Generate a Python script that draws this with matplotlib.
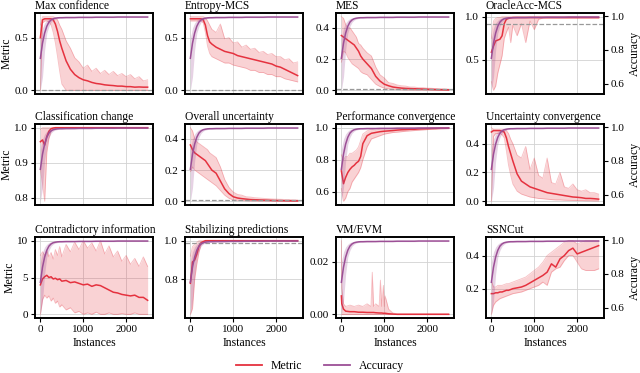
import matplotlib.pyplot as plt
from matplotlib.lines import Line2D

plt.rcParams['font.family'] = 'serif'
plt.rcParams['font.serif'] = ['Liberation Serif', 'DejaVu Serif']

RED = '#e5323f'
PURPLE = '#9c4f96'

# instances
x = [0, 50, 100, 150, 200, 250, 300, 350, 400, 450, 500, 600, 700, 800, 900, 1000,
     1100, 1200, 1300, 1400, 1500, 1600, 1700, 1800, 1900, 2000, 2100, 2200, 2300, 2400, 2500]

# accuracy (same learner in every panel)
acc_mean = [0.75, 0.84, 0.90, 0.94, 0.965, 0.978, 0.985, 0.988, 0.99, 0.991, 0.991, 0.992, 0.992, 0.992, 0.993, 0.993,
            0.993, 0.993, 0.994, 0.994, 0.994, 0.994, 0.994, 0.995, 0.995, 0.995, 0.995, 0.995, 0.995, 0.995, 0.995]
acc_lo = [0.56, 0.64, 0.80, 0.90, 0.94, 0.965, 0.977, 0.983, 0.986, 0.988, 0.988, 0.989, 0.989, 0.99, 0.99, 0.99,
          0.99, 0.99, 0.991, 0.991, 0.991, 0.991, 0.991, 0.992, 0.992, 0.992, 0.992, 0.992, 0.992, 0.992, 0.992]
acc_hi = [0.87, 0.93, 0.96, 0.976, 0.986, 0.99, 0.993, 0.994, 0.995, 0.995, 0.995, 0.995, 0.995, 0.995, 0.996, 0.996,
          0.996, 0.996, 0.996, 0.996, 0.996, 0.997, 0.997, 0.997, 0.997, 0.997, 0.997, 0.997, 0.997, 0.997, 0.997]

# Max confidence
mc_mean = [0.50, 0.67, 0.68, 0.68, 0.68, 0.68, 0.67, 0.63, 0.56, 0.47, 0.40, 0.28, 0.20, 0.15, 0.12, 0.10,
           0.09, 0.075, 0.065, 0.06, 0.052, 0.048, 0.045, 0.04, 0.04, 0.035, 0.035, 0.03, 0.032, 0.03, 0.03]
mc_hi = [0.62, 0.70, 0.70, 0.70, 0.70, 0.70, 0.70, 0.69, 0.67, 0.62, 0.58, 0.47, 0.40, 0.31, 0.27, 0.21,
         0.24, 0.18, 0.21, 0.16, 0.19, 0.15, 0.18, 0.14, 0.16, 0.13, 0.15, 0.11, 0.13, 0.09, 0.10]
mc_lo = [0.0, 0.64, 0.66, 0.66, 0.65, 0.62, 0.55, 0.45, 0.32, 0.18, 0.06, 0.0, 0.0, 0.0, 0.0, 0.0,
         0.0, 0.0, 0.0, 0.0, 0.0, 0.0, 0.0, 0.0, 0.0, 0.0, 0.0, 0.0, 0.0, 0.0, 0.0]

# Entropy-MCS
em_mean = [0.68, 0.68, 0.68, 0.68, 0.68, 0.68, 0.67, 0.62, 0.52, 0.46, 0.44, 0.41, 0.39, 0.37, 0.36, 0.35,
           0.33, 0.32, 0.31, 0.30, 0.29, 0.28, 0.27, 0.26, 0.25, 0.23, 0.22, 0.20, 0.18, 0.16, 0.14]
em_hi = [0.70, 0.70, 0.70, 0.70, 0.70, 0.70, 0.70, 0.69, 0.66, 0.62, 0.58, 0.55, 0.63, 0.49, 0.50, 0.45,
         0.46, 0.41, 0.43, 0.39, 0.40, 0.36, 0.37, 0.34, 0.35, 0.32, 0.32, 0.29, 0.30, 0.26, 0.27]
em_lo = [0.66, 0.66, 0.66, 0.66, 0.66, 0.66, 0.64, 0.55, 0.42, 0.35, 0.32, 0.30, 0.28, 0.26, 0.26, 0.24,
         0.23, 0.22, 0.21, 0.19, 0.19, 0.17, 0.17, 0.15, 0.15, 0.13, 0.13, 0.11, 0.10, 0.09, 0.08]

# MES
mes_mean = [0.35, 0.34, 0.33, 0.32, 0.31, 0.30, 0.29, 0.27, 0.25, 0.22, 0.20, 0.17, 0.14, 0.09, 0.06, 0.04,
            0.03, 0.022, 0.018, 0.015, 0.013, 0.012, 0.011, 0.010, 0.009, 0.008, 0.007, 0.006, 0.005, 0.005, 0.004]
mes_hi = [0.47, 0.46, 0.42, 0.40, 0.40, 0.38, 0.36, 0.34, 0.30, 0.29, 0.27, 0.24, 0.22, 0.15, 0.10, 0.08,
          0.05, 0.045, 0.035, 0.03, 0.028, 0.022, 0.022, 0.018, 0.018, 0.015, 0.014, 0.012, 0.011, 0.010, 0.009]
mes_lo = [0.18, 0.25, 0.24, 0.21, 0.19, 0.17, 0.16, 0.15, 0.14, 0.12, 0.11, 0.10, 0.07, 0.04, 0.025, 0.015,
          0.01, 0.008, 0.006, 0.005, 0.004, 0.004, 0.003, 0.003, 0.003, 0.002, 0.002, 0.002, 0.002, 0.001, 0.001]

# OracleAcc-MCS
oa_mean = [0.59, 0.66, 0.72, 0.73, 0.74, 0.78, 0.92, 0.97, 0.98, 0.985, 0.99, 0.99, 0.99, 0.99, 0.99, 0.99,
           0.99, 0.99, 0.99, 0.99, 0.99, 0.99, 0.99, 0.99, 0.99, 0.99, 0.99, 0.99, 0.99, 0.99, 0.99]
oa_hi = [0.75, 0.95, 0.98, 0.99, 0.99, 1.0, 1.0, 1.0, 1.0, 1.0, 1.0, 1.0, 1.0, 1.0, 1.0, 1.0,
         1.0, 1.0, 1.0, 1.0, 1.0, 1.0, 1.0, 1.0, 1.0, 1.0, 1.0, 1.0, 1.0, 1.0, 1.0]
oa_lo = [0.25, 0.15, 0.20, 0.35, 0.45, 0.55, 0.75, 0.82, 0.88, 0.70, 0.90, 0.78, 0.92, 0.70, 0.95, 0.85,
         0.97, 0.985, 0.985, 0.985, 0.985, 0.985, 0.985, 0.985, 0.985, 0.985, 0.985, 0.985, 0.985, 0.985, 0.985]

# Classification change
cc_mean = [0.96, 0.965, 0.95, 0.975, 0.99, 0.997, 0.999, 1.0, 1.0, 1.0, 1.0, 1.0, 1.0, 1.0, 1.0, 1.0,
           1.0, 1.0, 1.0, 1.0, 1.0, 1.0, 1.0, 1.0, 1.0, 1.0, 1.0, 1.0, 1.0, 1.0, 1.0]
cc_hi = [0.995, 1.0, 1.0, 1.0, 1.0, 1.0, 1.0, 1.0, 1.0, 1.0, 1.0, 1.0, 1.0, 1.0, 1.0, 1.0,
         1.0, 1.0, 1.0, 1.0, 1.0, 1.0, 1.0, 1.0, 1.0, 1.0, 1.0, 1.0, 1.0, 1.0, 1.0]
cc_lo = [0.88, 0.84, 0.79, 0.93, 0.97, 0.99, 0.995, 0.998, 0.999, 0.999, 0.999, 0.999, 0.999, 0.999, 0.999, 0.999,
         0.999, 0.999, 0.999, 0.999, 0.999, 0.999, 0.999, 0.999, 0.999, 0.999, 0.999, 0.999, 0.999, 0.999, 0.999]

# Overall uncertainty
ou_mean = [0.36, 0.33, 0.31, 0.30, 0.29, 0.28, 0.27, 0.26, 0.24, 0.22, 0.20, 0.18, 0.13, 0.08, 0.05, 0.03,
           0.022, 0.018, 0.015, 0.012, 0.011, 0.01, 0.009, 0.008, 0.007, 0.006, 0.006, 0.005, 0.005, 0.004, 0.004]
ou_hi = [0.47, 0.45, 0.40, 0.38, 0.37, 0.36, 0.35, 0.34, 0.33, 0.31, 0.30, 0.28, 0.22, 0.14, 0.09, 0.06,
         0.045, 0.04, 0.03, 0.028, 0.024, 0.022, 0.02, 0.018, 0.016, 0.015, 0.014, 0.013, 0.012, 0.011, 0.01]
ou_lo = [0.19, 0.22, 0.20, 0.19, 0.18, 0.17, 0.16, 0.15, 0.14, 0.13, 0.12, 0.10, 0.07, 0.04, 0.02, 0.01,
         0.008, 0.006, 0.005, 0.004, 0.004, 0.003, 0.003, 0.003, 0.002, 0.002, 0.002, 0.002, 0.001, 0.001, 0.001]

# Performance convergence
pc_mean = [0.73, 0.65, 0.69, 0.72, 0.74, 0.755, 0.765, 0.78, 0.79, 0.82, 0.90, 0.95, 0.965, 0.97, 0.975, 0.978,
           0.98, 0.982, 0.985, 0.987, 0.988, 0.99, 0.99, 0.992, 0.993, 0.994, 0.995, 0.996, 0.997, 0.997, 0.998]
pc_hi = [0.83, 0.80, 0.82, 0.82, 0.84, 0.84, 0.85, 0.86, 0.88, 0.92, 0.96, 0.98, 0.99, 0.985, 0.99, 0.995,
         0.995, 0.997, 0.997, 0.998, 0.998, 0.999, 0.999, 0.999, 1.0, 1.0, 1.0, 1.0, 1.0, 1.0, 1.0]
pc_lo = [0.62, 0.54, 0.56, 0.60, 0.62, 0.66, 0.68, 0.70, 0.72, 0.75, 0.80, 0.88, 0.93, 0.94, 0.95, 0.96,
         0.965, 0.97, 0.972, 0.975, 0.978, 0.98, 0.982, 0.984, 0.986, 0.988, 0.99, 0.99, 0.992, 0.993, 0.994]

# Uncertainty convergence
uc_mean = [0.48, 0.49, 0.49, 0.49, 0.49, 0.485, 0.48, 0.44, 0.38, 0.33, 0.28, 0.19, 0.14, 0.12, 0.10, 0.09,
           0.08, 0.07, 0.06, 0.055, 0.05, 0.045, 0.04, 0.035, 0.03, 0.028, 0.025, 0.02, 0.02, 0.018, 0.015]
uc_hi = [0.51, 0.50, 0.50, 0.50, 0.50, 0.50, 0.50, 0.49, 0.47, 0.43, 0.40, 0.32, 0.30, 0.38, 0.22, 0.30,
         0.18, 0.16, 0.30, 0.13, 0.12, 0.20, 0.10, 0.09, 0.12, 0.08, 0.07, 0.08, 0.06, 0.06, 0.05]
uc_lo = [0.0, 0.45, 0.47, 0.47, 0.47, 0.46, 0.44, 0.35, 0.25, 0.18, 0.12, 0.07, 0.05, 0.04, 0.03, 0.025,
         0.02, 0.018, 0.015, 0.012, 0.01, 0.01, 0.008, 0.007, 0.006, 0.005, 0.005, 0.004, 0.004, 0.003, 0.003]

# Contradictory information
ci_mean = [4.0, 4.8, 5.1, 5.3, 5.0, 5.1, 4.8, 4.9, 4.7, 4.8, 4.5, 4.6, 4.3, 4.4, 4.2, 4.0,
           4.1, 3.8, 4.0, 3.9, 3.6, 3.3, 3.0, 2.9, 2.7, 2.6, 2.5, 2.6, 2.3, 2.3, 1.9]
ci_hi = [8.0, 8.5, 8.0, 8.7, 7.8, 8.4, 7.5, 8.8, 8.0, 9.2, 7.8, 9.5, 8.5, 9.8, 8.8, 10.0,
         9.0, 9.7, 8.6, 10.0, 8.2, 9.3, 7.8, 8.6, 7.2, 8.0, 6.8, 7.6, 6.5, 7.8, 6.5]
ci_lo = [0.0, 2.0, 2.6, 2.2, 2.5, 1.8, 2.2, 1.5, 1.8, 1.0, 1.3, 0.6, 0.9, 0.2, 0.4, 0.0,
         0.2, 0.0, 0.3, 0.0, 0.0, 0.2, 0.0, 0.0, 0.1, 0.0, 0.0, 0.2, 0.0, 0.0, 0.0]

# Stabilizing predictions
sp_mean = [0.78, 0.89, 0.90, 0.93, 0.97, 0.99, 0.995, 1.0, 1.0, 1.0, 1.0, 1.0, 1.0, 1.0, 1.0, 1.0,
           1.0, 1.0, 1.0, 1.0, 1.0, 1.0, 1.0, 1.0, 1.0, 1.0, 1.0, 1.0, 1.0, 1.0, 1.0]
sp_hi = [0.92, 0.97, 0.98, 0.99, 1.0, 1.0, 1.0, 1.0, 1.0, 1.0, 1.0, 1.0, 1.0, 1.0, 1.0, 1.0,
         1.0, 1.0, 1.0, 1.0, 1.0, 1.0, 1.0, 1.0, 1.0, 1.0, 1.0, 1.0, 1.0, 1.0, 1.0]
sp_lo = [0.62, 0.65, 0.80, 0.88, 0.94, 0.98, 0.99, 0.995, 0.998, 0.998, 0.998, 0.998, 0.998, 0.998, 0.998, 0.998,
         0.998, 0.998, 0.998, 0.998, 0.998, 0.998, 0.998, 0.998, 0.998, 0.998, 0.998, 0.998, 0.998, 0.998, 0.998]

# VM/EVM (own instance grid, to keep the narrow spikes narrow)
vm_x = [0, 10, 50, 100, 200, 300, 400, 500, 600, 690, 720, 750, 800, 880, 910, 940, 980, 1000, 1020,
        1100, 1200, 1300, 1500, 2000, 2500]
vm_mean = [0.007, 0.004, 0.002, 0.0012, 0.001, 0.001, 0.0008, 0.0008, 0.0007, 0.0007, 0.0007, 0.0007, 0.0006,
           0.0005, 0.0005, 0.0005, 0.0004, 0.0004, 0.0004, 0.0002, 0.0001, 0.0, 0.0, 0.0, 0.0]
vm_hi = [0.028, 0.01, 0.004, 0.003, 0.0035, 0.003, 0.0035, 0.003, 0.004, 0.003, 0.016, 0.003, 0.004,
         0.003, 0.013, 0.003, 0.011, 0.003, 0.007, 0.002, 0.0005, 0.0002, 0.0002, 0.0002, 0.0002]
vm_lo = [0.0, 0.0, 0.0, 0.0, 0.0, 0.0, 0.0, 0.0, 0.0, 0.0, 0.0, 0.0, 0.0,
         0.0, 0.0, 0.0, 0.0, 0.0, 0.0, 0.0, 0.0, 0.0, 0.0, 0.0, 0.0]

# SSNCut
ss_mean = [0.17, 0.17, 0.175, 0.175, 0.18, 0.18, 0.185, 0.19, 0.19, 0.195, 0.20, 0.205, 0.21, 0.22, 0.235, 0.25,
           0.265, 0.28, 0.30, 0.35, 0.33, 0.38, 0.40, 0.43, 0.445, 0.41, 0.42, 0.43, 0.44, 0.45, 0.46]
ss_hi = [0.25, 0.21, 0.21, 0.22, 0.22, 0.22, 0.225, 0.23, 0.23, 0.235, 0.24, 0.25, 0.26, 0.27, 0.29, 0.31,
         0.33, 0.36, 0.40, 0.42, 0.44, 0.46, 0.48, 0.49, 0.49, 0.47, 0.48, 0.49, 0.49, 0.49, 0.49]
ss_lo = [0.045, 0.10, 0.12, 0.13, 0.14, 0.145, 0.15, 0.155, 0.16, 0.165, 0.17, 0.175, 0.18, 0.19, 0.20, 0.21,
         0.22, 0.24, 0.22, 0.30, 0.32, 0.33, 0.37, 0.40, 0.40, 0.36, 0.32, 0.31, 0.31, 0.31, 0.32]

titles = ['Max confidence', 'Entropy-MCS', 'MES', 'OracleAcc-MCS',
          'Classification change', 'Overall uncertainty', 'Performance convergence', 'Uncertainty convergence',
          'Contradictory information', 'Stabilizing predictions', 'VM/EVM', 'SSNCut']
xs = [x, x, x, x, x, x, x, x, x, x, vm_x, x]
means = [mc_mean, em_mean, mes_mean, oa_mean, cc_mean, ou_mean, pc_mean, uc_mean, ci_mean, sp_mean, vm_mean, ss_mean]
highs = [mc_hi, em_hi, mes_hi, oa_hi, cc_hi, ou_hi, pc_hi, uc_hi, ci_hi, sp_hi, vm_hi, ss_hi]
lows = [mc_lo, em_lo, mes_lo, oa_lo, cc_lo, ou_lo, pc_lo, uc_lo, ci_lo, sp_lo, vm_lo, ss_lo]
thresholds = [0.0, 0.0, 0.01, 0.91, None, 0.01, None, None, None, 0.99, None, None]
yticks = [[0.0, 0.5], [0.0, 0.5], [0.0, 0.2, 0.4], [0.5, 1.0],
          [0.8, 0.9, 1.0], [0.0, 0.2, 0.4], [0.6, 0.8, 1.0], [0.0, 0.2, 0.4],
          [0, 5, 10], [0.8, 1.0], [0.0, 0.02], [0.2, 0.4]]
yfmt = ['%.1f'] * 8 + ['%d', '%.1f', '%.2f', '%.1f']
acc_ticks = [0.6, 0.8, 1.0]

fig = plt.figure(figsize=(6.4, 3.73), dpi=100)
col_left = [35, 185, 336, 486]
row_top = [13, 124, 237]
W, H = 118, 81

for i in range(12):
    r, c = divmod(i, 4)
    ax = fig.add_axes([col_left[c] / 640, 1 - (row_top[r] + H) / 373, W / 640, H / 373])
    ax.set_axisbelow(True)
    ax.grid(True, color='#d2d2d2', lw=0.6)
    ax.fill_between(xs[i], lows[i], highs[i], color=RED, alpha=0.22, lw=0)
    ax.plot(xs[i], lows[i], color=RED, alpha=0.3, lw=0.6)
    ax.plot(xs[i], highs[i], color=RED, alpha=0.3, lw=0.6)
    ax.plot(xs[i], means[i], color=RED, lw=1.1)
    if thresholds[i] is not None:
        ax.axhline(thresholds[i], color='#999999', ls='--', lw=0.9)
    ax.set_yticks(yticks[i])
    ax.set_yticklabels([yfmt[i] % t for t in yticks[i]])
    ax.set_xticks([0, 1000, 2000])
    ax.tick_params(labelsize=8, length=3, width=0.8, pad=2)
    ax.set_title(titles[i], loc='left', fontsize=8.3, pad=3)
    if r == 2:
        ax.set_xlabel('Instances', fontsize=8.5, labelpad=2)
    else:
        ax.tick_params(axis='x', length=0, labelbottom=False)
    if c == 0:
        ax.set_ylabel('Metric', fontsize=8.5, labelpad=1)

    ax2 = ax.twinx()
    ax2.fill_between(x, acc_lo, acc_hi, color=PURPLE, alpha=0.25, lw=0)
    ax2.plot(x, acc_mean, color=PURPLE, lw=1.1)
    ax2.set_yticks(acc_ticks)
    ax2.set_yticklabels(['%.1f' % t for t in acc_ticks])
    ax2.tick_params(labelsize=8, length=3, width=0.8, pad=2)
    if c == 3:
        ax2.set_ylabel('Accuracy', fontsize=8.5, labelpad=3)
    else:
        ax2.tick_params(right=False, labelright=False)
    for a in (ax, ax2):
        for s in a.spines.values():
            s.set_linewidth(1.2)
            s.set_color('black')

handles = [Line2D([], [], color=RED, lw=1.3), Line2D([], [], color=PURPLE, lw=1.3)]
fig.legend(handles, ['Metric', 'Accuracy'], loc='center', bbox_to_anchor=(0.5, 1 - 366 / 373),
           ncol=2, frameon=False, fontsize=8.5, handlelength=2.2, columnspacing=1.8)

fig.savefig('out.png', dpi=100)
